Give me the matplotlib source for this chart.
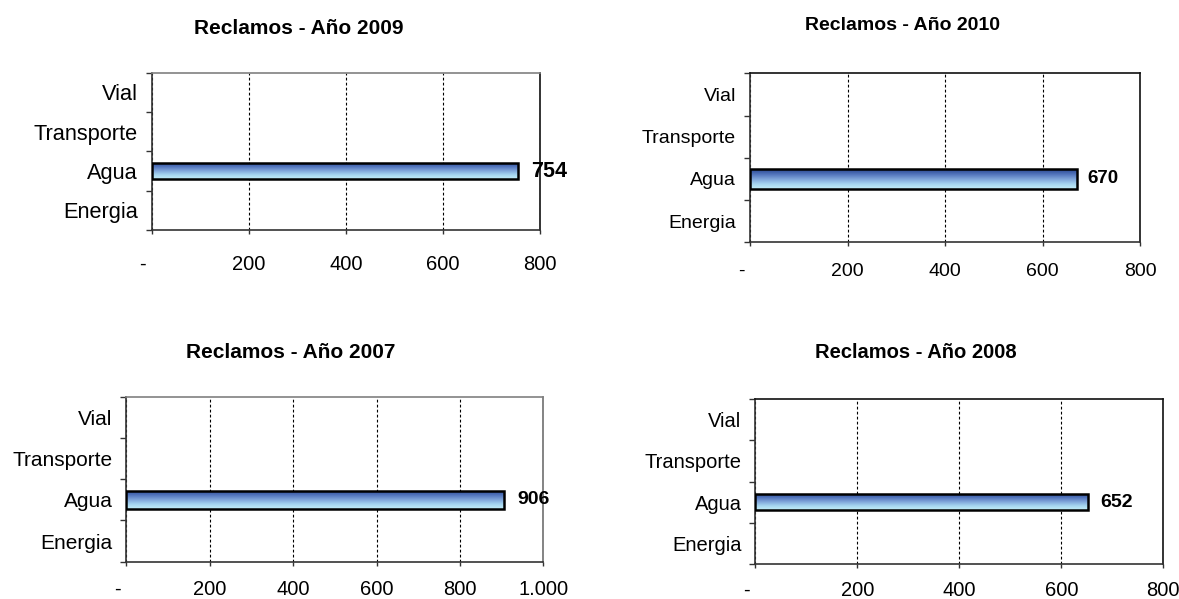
import numpy as np
import matplotlib
matplotlib.use("Agg")
import matplotlib.pyplot as plt
from matplotlib.colors import LinearSegmentedColormap
from matplotlib.ticker import FuncFormatter, FixedLocator

plt.rcParams['font.family'] = ['Liberation Sans', 'DejaVu Sans']

# Claim categories, bottom to top on the y axis
categories = ["Energia", "Agua", "Transporte", "Vial"]

# Number of claims per category and year
values_2009 = [0, 754, 0, 0]
values_2010 = [0, 670, 0, 0]
values_2007 = [0, 906, 0, 0]
values_2008 = [0, 652, 0, 0]

# Axis ticks per panel
ticks_800 = [0, 200, 400, 600, 800]
ticks_1000 = [0, 200, 400, 600, 800, 1000]

W, H = 1179, 599
fig = plt.figure(figsize=(W / 100, H / 100), dpi=100)
fig.patch.set_facecolor("white")

bar_cmap = LinearSegmentedColormap.from_list(
    "agua", ["#c4eef8", "#a6d6f0", "#7ea3d9", "#5072ba", "#28468f"])
gradient = np.linspace(0, 1, 256).reshape(-1, 1)


def px_rect(left, right, top, bottom):
    return [left / W, 1 - bottom / H, (right - left) / W, (bottom - top) / H]


def tick_fmt(v, pos):
    if v == 0:
        return "-   "
    return f"{int(v):,}".replace(",", ".")


def panel(rect, title, title_xy, title_size, values, ticks, bar_h,
          cat_size, tick_size, value_size, value_gap, xpad,
          top_color, right_color):
    ax = fig.add_axes(px_rect(*rect))
    ypos = np.arange(len(categories))
    bars = ax.barh(ypos, values, height=bar_h, facecolor="none",
                   edgecolor="black", linewidth=1.8, zorder=4)
    for bar, v in zip(bars, values):
        if v <= 0:
            bar.set_visible(False)
            continue
        x0, y0 = bar.get_x(), bar.get_y()
        w, h = bar.get_width(), bar.get_height()
        im = ax.imshow(gradient, extent=(x0, x0 + w, y0, y0 + h),
                       origin="lower", aspect="auto", cmap=bar_cmap,
                       interpolation="bilinear", zorder=3)
        im.set_clip_path(bar)
        ax.annotate(f"{v}", xy=(x0 + w, y0 + h / 2), xytext=(value_gap, 0),
                    textcoords="offset points", ha="left", va="center",
                    fontsize=value_size, fontweight="bold", color="black",
                    annotation_clip=False, zorder=5)

    ax.set_xlim(ticks[0], ticks[-1])
    ax.set_ylim(-0.5, len(categories) - 0.5)
    ax.set_aspect("auto")

    ax.xaxis.set_major_locator(FixedLocator(ticks))
    ax.xaxis.set_major_formatter(FuncFormatter(tick_fmt))
    ax.tick_params(axis="x", direction="out", length=3, width=1,
                   color="#333333", pad=xpad, labelsize=tick_size)
    ax.grid(axis="x", color="black", linestyle=(0, (2.5, 2)),
            linewidth=0.8, zorder=1)

    ax.set_yticks(ypos)
    ax.set_yticklabels(categories)
    ax.set_yticks(np.arange(-0.5, len(categories)), minor=True)
    ax.tick_params(axis="y", which="major", length=0, pad=10,
                   labelsize=cat_size)
    ax.tick_params(axis="y", which="minor", direction="out", length=4.5,
                   width=1, color="#333333")

    for side in ("left", "bottom"):
        ax.spines[side].set_color("#333333")
        ax.spines[side].set_linewidth(1.2)
    ax.spines["top"].set_color(top_color)
    ax.spines["top"].set_linewidth(1.2)
    ax.spines["right"].set_color(right_color)
    ax.spines["right"].set_linewidth(1.2)
    ax.set_axisbelow(True)

    fig.text(title_xy[0] / W, 1 - title_xy[1] / H, title, ha="center",
             va="center", fontsize=title_size, fontweight="bold")
    return ax


panel((152, 540, 72.7, 230), "Reclamos - Año 2009", (298.5, 28), 15,
      values_2009, ticks_800, 0.42, 15.7, 14.5, 15.5, 9.5, 15,
      "#808080", "#111111")
panel((750, 1140, 73.3, 242.3), "Reclamos - Año 2010", (902.5, 26), 14,
      values_2010, ticks_800, 0.47, 14, 14, 13.5, 8, 12,
      "#111111", "#111111")
panel((126.4, 543.4, 396.7, 561.7), "Reclamos - Año 2007", (291, 352), 15,
      values_2007, ticks_1000, 0.44, 15, 14.5, 14, 9.5, 10,
      "#808080", "#707070")
panel((755.4, 1163.3, 399, 564), "Reclamos - Año 2008", (915.5, 353), 14.5,
      values_2008, ticks_800, 0.40, 14.5, 14.5, 14, 9, 9.5,
      "#111111", "#111111")

fig.savefig("out.png", dpi=100, facecolor="white")
